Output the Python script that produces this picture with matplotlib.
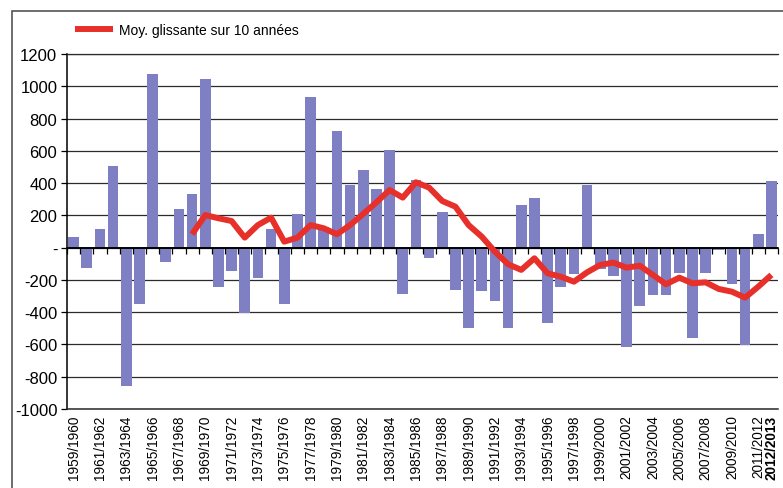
import matplotlib
matplotlib.use("Agg")
import numpy as np
import matplotlib.pyplot as plt
from matplotlib import font_manager
from matplotlib.patches import Rectangle

# Police : Arial étroite si dispo, sinon Liberation Sans
noms = {f.name for f in font_manager.fontManager.ttflist}
police = "Liberation Sans Narrow" if "Liberation Sans Narrow" in noms else "Liberation Sans"
plt.rcParams['font.family'] = [police, 'DejaVu Sans']

# Saisons 1959/1960 -> 2012/2013
annees = list(range(1959, 2013))
saisons = [f"{a}/{a + 1}" for a in annees]

# Ecarts annuels
ecarts = [66, -128, 114, 508, -855, -349, 1076, -89, 240, 335,
          1045, -242, -145, -403, -186, 114, -349, 207, 936, 130,
          725, 388, 483, 366, 607, -287, 421, -66, 219, -262,
          -496, -270, -330, -496, 264, 310, -465, -246, -161, 388,
          -130, -174, -614, -362, -293, -293, -159, -558, -159, -15,
          -223, -603, 83, 413]

# Moyenne glissante sur 10 années (commence en 1968/1969)
debut_moy = 9
moy_glissante = [83, 202, 182, 165, 62, 140, 186, 37, 62,
                 140, 120, 83, 140, 209, 281, 357, 310, 405, 372,
                 289, 254, 140, 68, -25, -103, -138, -66,
                 -159, -180, -211, -153, -107, -93, -124, -112, -169, -227,
                 -186, -221, -215, -256, -273, -310, -242, -169]

graduations_y = list(range(-1000, 1201, 200))
etiquettes_y = ['-' if v == 0 else str(v) for v in graduations_y]

x = np.arange(len(saisons))
x_moy = x[debut_moy:debut_moy + len(moy_glissante)]

fig = plt.figure(figsize=(7.83, 4.89), dpi=100)
ax = fig.add_axes([67 / 783, 1 - 410 / 489, 711 / 783, 355 / 489])

# barres
ax.bar(x, ecarts, width=0.82, color='#7f7fc4', zorder=2)

# ligne du zéro
ax.axhline(0, color='black', lw=1.2, zorder=3)

# courbe rouge
ax.plot(x_moy, moy_glissante, color='#e8302a', lw=4.3, zorder=4,
        solid_joinstyle='round', solid_capstyle='butt',
        label='Moy. glissante sur 10 années')

ax.set_xlim(-0.5, len(saisons) - 0.5)
ax.set_ylim(-1000, 1200)

# axe Y + grille
ax.set_yticks(graduations_y)
ax.set_yticklabels(etiquettes_y, fontsize=12)
ax.yaxis.grid(True, color='#2b2b2b', lw=0.9)
ax.set_axisbelow(True)
ax.tick_params(axis='y', direction='out', length=4, width=0.9, pad=3, color='black')

# axe X : une étiquette sur deux + la dernière en gras
pos_x = list(x[::2]) + [x[-1]]
ax.set_xticks(pos_x)
ax.set_xticklabels([saisons[i] for i in pos_x], rotation=90, fontsize=9.8)
ax.tick_params(axis='x', length=0, pad=4)
ax.get_xticklabels()[-1].set_fontweight('bold')

ax.spines['right'].set_visible(False)
ax.spines['top'].set_color('#2b2b2b')
ax.spines['left'].set_color('black')
ax.spines['bottom'].set_color('#2b2b2b')
ax.spines['top'].set_linewidth(0.9)
ax.spines['left'].set_linewidth(1.1)
ax.spines['bottom'].set_linewidth(1.1)

# petites graduations sur la ligne du zéro, entre les saisons
zero = ax.secondary_xaxis(1000 / 2200)
zero.set_xticks(np.arange(-0.5, len(saisons), 1))
zero.tick_params(direction='out', length=4, width=0.9, color='black',
                 labelbottom=False, labeltop=False)
zero.spines['bottom'].set_linewidth(1.2)
zero.spines['bottom'].set_color('black')
zero.set_zorder(3)

# légende
ax.legend(loc='center left', bbox_to_anchor=(75 / 783, 1 - 31 / 489),
          bbox_transform=fig.transFigure, frameon=False, fontsize=10,
          handlelength=2.7, handletextpad=0.45, borderpad=0, borderaxespad=0)

# cadre extérieur
fig.add_artist(Rectangle((12 / 783, -0.1), 1.2, 1.1 - 12 / 489,
                         transform=fig.transFigure, fill=False,
                         ec='#555555', lw=1.2))

fig.savefig('out.png', dpi=100)
